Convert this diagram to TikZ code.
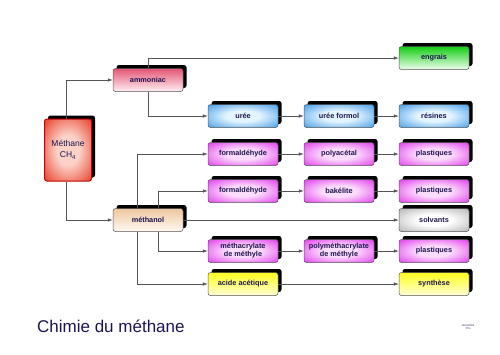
\documentclass[tikz,border=0pt]{standalone}
\usepackage{fontspec}
\setmainfont{Liberation Sans}
\usepackage{xcolor}
\usepackage{tikz}
\usetikzlibrary{shadows,arrows.meta}

\definecolor{txt}{RGB}{30,20,80}
\definecolor{lne}{RGB}{85,85,85}
\pgfdeclareradialshading[pilin,pilout]{pillow}{\pgfpoint{0bp}{0bp}}{%
  color(0bp)=(pilin); color(12bp)=(pilin); color(33bp)=(pilout); color(50bp)=(pilout)}
\colorlet{pilin}{white}\colorlet{pilout}{gray}

\begin{document}
\begin{tikzpicture}[x=1pt, y=-1pt,
  box/.style={draw=lne, rounded corners=2.5pt, line width=0.5pt, minimum width=70pt, minimum height=23pt,
    inner sep=1pt, align=center, text=txt, font=\fontsize{7.3}{8}\selectfont\bfseries,
    drop shadow={shadow xshift=3.5pt, shadow yshift=3.5pt, fill=black, opacity=1}},
  coussin/.style 2 args={box, shading=pillow, /utils/exec={\colorlet{pilin}{#1}\colorlet{pilout}{#2}}},
  bleu/.style={coussin={rgb,255:red,228;green,244;blue,255}{rgb,255:red,85;green,168;blue,235}},
  rose/.style={coussin={rgb,255:red,252;green,220;blue,252}{rgb,255:red,228;green,80;blue,238}},
  jaune/.style={box, top color={rgb,255:red,255;green,255;blue,30}, bottom color={rgb,255:red,255;green,255;blue,215}},
  fl/.style={draw=lne, line width=0.6pt, -{Latex[length=5pt,width=3.5pt]}}]
\useasboundingbox (0,0) rectangle (500,354);
\node[coussin={rgb,255:red,252;green,210;blue,200}{rgb,255:red,234;green,80;blue,60}, minimum width=47pt, minimum height=62pt,
  draw={rgb,255:red,200;green,0;blue,0}, line width=1pt, font=\fontsize{8.5}{11}\selectfont] (methane) at (68,150) {Méthane\\CH\textsubscript{4}};
\node[box, top color={rgb,255:red,228;green,85;blue,115}, bottom color={rgb,255:red,255;green,240;blue,244}] (ammoniac) at (148,80) {ammoniac};
\node[box, top color={rgb,255:red,20;green,205;blue,20}, bottom color={rgb,255:red,238;green,255;blue,238}] (engrais) at (434,58) {engrais};
\node[bleu] (uree) at (243,116) {urée};
\node[bleu] (ureeformol) at (339,116) {urée formol};
\node[bleu] (resines) at (434,116) {résines};
\node[rose] (formal1) at (243,154) {formaldéhyde};
\node[rose] (polyacetal) at (339,154) {polyacétal};
\node[rose] (plast1) at (434,154) {plastiques};
\node[rose] (formal2) at (243,191) {formaldéhyde};
\node[rose] (bakelite) at (339,191) {bakélite};
\node[rose] (plast2) at (434,191) {plastiques};
\node[box, top color={rgb,255:red,238;green,198;blue,158}, bottom color={rgb,255:red,255;green,249;blue,242}] (methanol) at (148,220) {méthanol};
\node[coussin={white}{rgb,255:red,190;green,190;blue,190}] (solvants) at (434,220) {solvants};
\node[rose] (methacryl) at (243,251) {méthacrylate\\de méthyle};
\node[rose] (polymethacryl) at (339,251) {polyméthacrylate\\de méthyle};
\node[rose] (plast3) at (434,251) {plastiques};
\node[jaune] (acide) at (243,284) {acide acétique};
\node[jaune] (synthese) at (434,284) {synthèse};
% connecteurs
\draw[fl] ([xshift=-2pt]methane.north) |- (ammoniac.west);
\draw[fl] ([xshift=-2pt]methane.south) |- (methanol.west);
\draw[fl] (ammoniac.north) |- (engrais.west);
\draw[fl] (ammoniac.south) |- (uree.west);
\draw[fl] (uree) -- (ureeformol);
\draw[fl] (ureeformol) -- (resines);
\draw[fl] ([xshift=-11pt]methanol.north) |- (formal1.west);
\draw[fl] ([xshift=10pt]methanol.north) |- (formal2.west);
\draw[fl] (methanol) -- (solvants);
\draw[fl] ([xshift=10pt]methanol.south) |- (methacryl.west);
\draw[fl] ([xshift=-11pt]methanol.south) |- (acide.west);
\draw[fl] (formal1) -- (polyacetal);
\draw[fl] (polyacetal) -- (plast1);
\draw[fl] (formal2) -- (bakelite);
\draw[fl] (bakelite) -- (plast2);
\draw[fl] (methacryl) -- (polymethacryl);
\draw[fl] (polymethacryl) -- (plast3);
\draw[fl] (acide) -- (synthese);
% titre
\node[anchor=base west, inner sep=0pt, text=txt, font=\fontsize{17}{20}\selectfont] (titre) at (37,332) {Chimie du méthane};
\node[align=center, inner sep=0pt, text=txt, font=\fontsize{2.5}{3}\selectfont] (date) at (468,327) {16/01/2005\\TTG};
\end{tikzpicture}
\end{document}
